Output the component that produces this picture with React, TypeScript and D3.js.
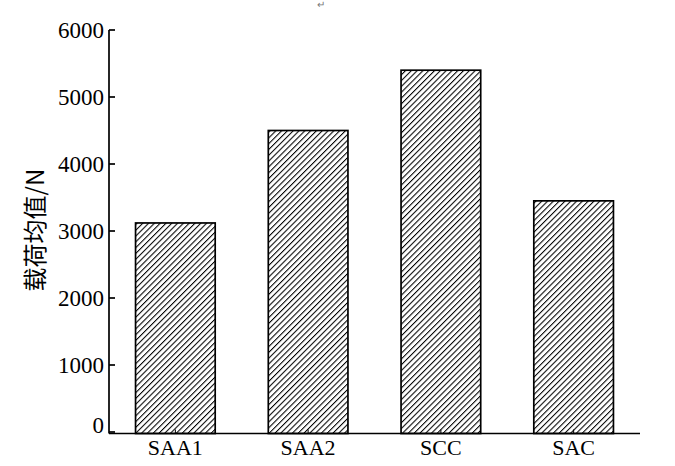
import React from "react";
import * as d3 from "d3";

const categories = ["SAA1", "SAA2", "SCC", "SAC"];
const values = [3120, 4500, 5400, 3450];
const yTicks = [0, 1000, 2000, 3000, 4000, 5000, 6000];
const yLabel = "载荷均值/N";

export default function App() {
  const W = 675, H = 466;
  const x0 = 109, x1 = 640, yTop = 30, yBot = 432, axisY = 433.5;
  const x = d3.scaleBand().domain(categories).range([x0, x1]).paddingInner(0.4).paddingOuter(0.2);
  const y = d3.scaleLinear().domain([0, 6000]).range([yBot, yTop]);
  const font = "'Liberation Serif', 'Times New Roman', serif";
  const P = 4.1;
  return (
    <svg width={W} height={H} style={{ position: "absolute", left: 0, top: 0, background: "#fff" }}>
      <defs>
        <pattern id="hatch" patternUnits="userSpaceOnUse" width={P} height={P} patternTransform="rotate(45)">
          <rect width={P} height={P} fill="#fff" />
          <line x1="0" y1="0" x2="0" y2={P} stroke="#000" strokeWidth="2.1" />
        </pattern>
      </defs>
      <text x={317} y={8} fontSize={10} fill="#777" fontFamily={font}>↵</text>
      {categories.map((c, i) => (
        <rect key={c} x={x(c)} y={y(values[i])} width={x.bandwidth()} height={axisY - y(values[i])}
          fill="url(#hatch)" stroke="#000" strokeWidth={1.7} />
      ))}
      <line x1={x0} y1={yTop} x2={x0} y2={axisY} stroke="#000" strokeWidth={1.7} />
      <line x1={x0} y1={axisY} x2={x1} y2={axisY} stroke="#000" strokeWidth={1.7} />
      {yTicks.map((t) => (
        <g key={t}>
          <line x1={x0} x2={x0 + 6} y1={y(t)} y2={y(t)} stroke="#000" strokeWidth={1.7} />
          <text x={x0 - 5} y={t === 0 ? 433 : y(t) + 8} textAnchor="end" fontSize={23} fontFamily={font}>{t}</text>
        </g>
      ))}
      {categories.map((c) => (
        <g key={c}>
          <line x1={x(c)! + x.bandwidth() / 2} x2={x(c)! + x.bandwidth() / 2} y1={axisY} y2={axisY - 4} stroke="#000" strokeWidth={1} />
          <text x={x(c)! + x.bandwidth() / 2} y={455} textAnchor="middle" fontSize={22} fontFamily={font}>{c}</text>
        </g>
      ))}
      <text transform={`translate(44,${230}) rotate(-90)`} textAnchor="middle" fontSize={24}
        fontFamily={"'Noto Sans CJK SC', " + font}>{yLabel}</text>
    </svg>
  );
}
